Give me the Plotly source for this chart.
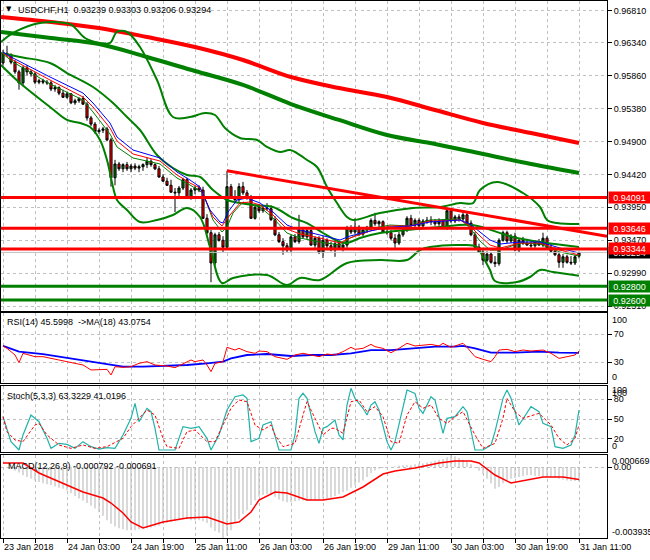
import plotly.graph_objects as go

# ---------------- data ----------------
bars = list(range(145))
opens = [.9605,.9619,.9617,.9606,.9592,.9576,.9598,.9592,.9589,.9577,
.9579,.9577,.9576,.9567,.9569,.9561,.9555,.9560,.9547,.9550,
.9553,.9545,.9525,.9516,.9505,.9507,.9509,.9493,.9438,.9458,
.9451,.9457,.9451,.9455,.9452,.9454,.9457,.9462,.9457,.9451,
.9439,.9433,.9427,.9417,.9416,.9423,.9435,.9409,.9420,.9423,
.9420,.9379,.9358,.9314,.9355,.9347,.9337,.9425,.9409,.9406,
.9425,.9416,.9409,.9379,.9395,.9390,.9394,.9393,.9377,.9355,
.9345,.9339,.9333,.9352,.9345,.9362,.9352,.9361,.9340,.9350,
.9330,.9347,.9339,.9333,.9342,.9336,.9340,.9365,.9359,.9366,
.9356,.9362,.9366,.9376,.9371,.9374,.9359,.9358,.9350,.9343,
.9355,.9362,.9379,.9369,.9376,.9368,.9375,.9376,.9374,.9371,
.9375,.9365,.9390,.9375,.9381,.9378,.9384,.9372,.9355,.9337,
.9330,.9318,.9327,.9315,.9313,.9347,.9358,.9346,.9353,.9333,
.9347,.9343,.9340,.9339,.9345,.9340,.9350,.9336,.9331,.9326,
.9315,.9323,.9315,.9314,.93239]
highs = [.9624,.9630,.9619,.9609,.9595,.9601,.9602,.9595,.9592,.9582,
.9582,.9580,.9579,.9573,.9571,.9566,.9563,.9561,.9553,.9555,
.9557,.9548,.9528,.9519,.9510,.9512,.9512,.9496,.9464,.9461,
.9459,.9461,.9458,.9459,.9457,.9459,.9467,.9465,.9459,.9455,
.9443,.9438,.9435,.9423,.9426,.9438,.9438,.9423,.9426,.9427,
.9425,.9385,.9362,.9358,.9359,.9353,.9448,.9429,.9420,.9430,
.9432,.9420,.9413,.9398,.9400,.9397,.9401,.9398,.9382,.9359,
.9350,.9343,.9355,.9356,.9384,.9366,.9365,.9363,.9353,.9353,
.9353,.9350,.9345,.9347,.9345,.9343,.9368,.9369,.9379,.9369,
.9365,.9368,.9379,.9387,.9376,.9376,.9365,.9362,.9356,.9359,
.9365,.9382,.9384,.9379,.9379,.9378,.9381,.9382,.9378,.9379,
.9378,.9394,.9394,.9384,.9385,.9388,.9388,.9376,.9359,.9342,
.9334,.9331,.9330,.9324,.9350,.9361,.9361,.9356,.9358,.9350,
.9352,.9349,.9346,.9347,.9349,.9358,.9353,.9342,.9337,.9330,
.9327,.9326,.9324,.9326,.93303]
lows = [.9601,.9614,.9603,.9589,.9566,.9571,.9587,.9585,.9574,.9574,
.9574,.9573,.9564,.9563,.9558,.9554,.9553,.9545,.9544,.9547,
.9544,.9521,.9513,.9502,.9502,.9503,.9491,.9425,.9427,.9448,
.9446,.9448,.9446,.9449,.9446,.9448,.9452,.9454,.9449,.9438,
.9432,.9426,.9416,.9388,.9411,.9420,.9407,.9406,.9414,.9417,
.9378,.9356,.9286,.9310,.9345,.9330,.9333,.9407,.9401,.9403,
.9413,.9406,.9378,.9377,.9387,.9387,.9390,.9375,.9353,.9343,
.9326,.9330,.9329,.9343,.9342,.9350,.9349,.9339,.9336,.9327,
.9321,.9333,.9331,.9323,.9333,.9331,.9336,.9356,.9356,.9353,
.9353,.9358,.9362,.9368,.9365,.9358,.9355,.9347,.9336,.9340,
.9352,.9359,.9366,.9365,.9365,.9365,.9371,.9369,.9368,.9368,
.9363,.9362,.9372,.9372,.9374,.9374,.9371,.9353,.9336,.9329,
.9311,.9315,.9313,.9308,.9310,.9345,.9343,.9343,.9331,.9330,
.9340,.9339,.9336,.9336,.9339,.9337,.9334,.9329,.9324,.9307,
.9307,.9313,.9311,.9311,.93206]
closes = [.9619,.9617,.9606,.9592,.9576,.9598,.9592,.9589,.9577,.9579,
.9577,.9576,.9567,.9569,.9561,.9555,.9560,.9547,.9550,.9553,
.9545,.9525,.9516,.9505,.9507,.9509,.9493,.9438,.9458,.9451,
.9457,.9451,.9455,.9452,.9454,.9457,.9462,.9457,.9451,.9439,
.9433,.9427,.9417,.9416,.9423,.9435,.9409,.9420,.9423,.9420,
.9379,.9358,.9314,.9355,.9347,.9337,.9425,.9409,.9406,.9425,
.9416,.9409,.9379,.9395,.9390,.9394,.9393,.9377,.9355,.9345,
.9339,.9333,.9352,.9345,.9362,.9352,.9361,.9340,.9350,.9330,
.9347,.9339,.9333,.9342,.9336,.9340,.9365,.9359,.9366,.9356,
.9362,.9366,.9376,.9371,.9374,.9359,.9358,.9350,.9343,.9355,
.9362,.9379,.9369,.9376,.9368,.9375,.9376,.9374,.9371,.9375,
.9365,.9390,.9375,.9381,.9378,.9384,.9372,.9355,.9337,.9330,
.9318,.9327,.9315,.9313,.9347,.9358,.9346,.9353,.9333,.9347,
.9343,.9340,.9339,.9345,.9340,.9350,.9336,.9331,.9326,.9315,
.9323,.9315,.9314,.9323,.93294]

# long moving averages (thick)
ma_long_x = [-0.5,12,24,36,48,60,72,84,96,108,120,132,144]
ma_red_y = [0.96718,0.96645,0.96558,0.96427,0.96281,0.96092,0.95845,0.95685,0.95554,0.95365,0.95176,0.95031,0.94885]
ma_green_y = [0.96500,0.96412,0.96325,0.96136,0.95932,0.95729,0.95452,0.95220,0.95001,0.94871,0.94725,0.94580,0.94449]

# Bollinger bands
bb_up_x = [-0.5,3,9.25,15.5,17.25,20.5,24.25,26.75,28.5,31,34.25,38.5,42.5,46.75,50.5,53,55.5,59.25,63.5,66,69.25,71.75,74.25,76,78.5,81,83.5,86,87.5,94.25,102.5,109.25,114.25,117.5,119.25,123.5,130,134.25,136,138.5,144]
bb_up_y = [0.96354,0.96500,0.96630,0.96630,0.96601,0.96412,0.96340,0.96340,0.96500,0.96500,0.96281,0.95801,0.95263,0.95263,0.95321,0.95292,0.95103,0.94958,0.94929,0.94827,0.94754,0.94783,0.94710,0.94638,0.94536,0.94245,0.94012,0.93809,0.93765,0.93867,0.93940,0.93954,0.94012,0.94012,0.94201,0.94318,0.94158,0.93954,0.93765,0.93721,0.93707]
bb_lo_x = [-0.5,4.25,11.75,16,19.25,21.75,24.25,26,27.5,28.5,31,34.25,38.5,42.5,46,49.25,51.75,54.75,57.5,66,71,74.25,79.25,86,94.25,101,104.25,106.75,115,118.5,120,121.75,123,128.5,131.75,134.25,137.5,144]
bb_lo_y = [0.96020,0.95758,0.95409,0.95220,0.95176,0.95118,0.94929,0.94638,0.94245,0.94056,0.93910,0.93736,0.93765,0.93838,0.93940,0.93809,0.93372,0.92849,0.92922,0.92965,0.92820,0.92922,0.92893,0.93140,0.93183,0.93183,0.93328,0.93372,0.93401,0.93372,0.93227,0.93038,0.92878,0.92863,0.92936,0.93038,0.93009,0.92954]
bb_mid_x = [-0.5,4.25,11.75,16,22.5,27.5,31,34.25,38.5,42.5,46,49.25,52.5,56,59.25,62.5,67.5,72.5,76,80,84.25,86,89.25,94.25,101,109.25,117.25,128.5,144]
bb_mid_y = [0.96194,0.96136,0.96049,0.95903,0.95700,0.95467,0.95263,0.95074,0.94710,0.94521,0.94420,0.94391,0.94201,0.94056,0.94012,0.93983,0.93954,0.93794,0.93721,0.93576,0.93445,0.93430,0.93503,0.93576,0.93619,0.93663,0.93692,0.93503,0.93372]

# short moving averages (thin)
ma_blue_x = [0,2.5,11.75,20,22.5,26.75,28.5,32.5,39.25,43.5,46.75,49.25,51.75,54.25,55,56.25,58.5,61,64.25,67.5,71,74.25,79.25,84.25,86.75,91.75,96.75,101.75,106.75,114.25,116.75,119.25,121.75,124.25,129.25,134.25,139.25,144]
ma_blue_y = [0.96209,0.96121,0.95845,0.95612,0.95467,0.95176,0.94972,0.94783,0.94667,0.94463,0.94347,0.94245,0.93910,0.93736,0.93721,0.93881,0.94056,0.94085,0.94012,0.93881,0.93692,0.93619,0.93547,0.93474,0.93532,0.93605,0.93663,0.93678,0.93736,0.93765,0.93707,0.93590,0.93474,0.93416,0.93445,0.93445,0.93357,0.93285]
ma_redt_x = [0,2.5,11.75,20,22.5,26.75,28.5,32.5,39.25,43.5,46.75,49.25,52.5,54.75,56.75,59.25,61.75,64.25,67.5,71,74.25,79.25,84.25,86.75,91.75,96.75,101.75,106.75,114.25,116.75,119.25,121.75,124.25,129.25,134.25,139.25,144]
ma_redt_y = [0.96194,0.96092,0.95801,0.95554,0.95409,0.95103,0.94914,0.94725,0.94623,0.94420,0.94303,0.94231,0.93809,0.93678,0.93838,0.94012,0.94027,0.93983,0.93838,0.93634,0.93561,0.93503,0.93430,0.93503,0.93605,0.93678,0.93678,0.93750,0.93765,0.93678,0.93532,0.93401,0.93357,0.93430,0.93430,0.93328,0.93256]
ma_grnt_x = [0,2.5,11.75,20,22.5,26.75,28.5,32.5,39.25,43.5,46.75,50,52.5,54.75,56,57.5,60,61.75,64.25,67.5,71,74.25,79.25,84.25,86.75,91.75,96.75,101.75,106.75,114.25,116.75,119.25,121.75,124.25,129.25,134.25,139.25,144]
ma_grnt_y = [0.96180,0.96063,0.95743,0.95510,0.95336,0.95016,0.94827,0.94667,0.94580,0.94376,0.94274,0.94158,0.93765,0.93590,0.93663,0.93867,0.94027,0.93998,0.93954,0.93794,0.93576,0.93503,0.93445,0.93401,0.93503,0.93634,0.93692,0.93678,0.93765,0.93779,0.93648,0.93459,0.93328,0.93328,0.93430,0.93416,0.93299,0.93241]

# horizontal levels and trend line
resist_levels = [0.94091, 0.93646, 0.93344]
support_levels = [0.92800, 0.92600]
last_price = 0.93294
trend_x = [56, 151]
trend_y = [0.9448, 0.9353]

# price axis ticks
price_ticks = [0.92510, 0.92990, 0.93470, 0.93950, 0.94420, 0.94900, 0.95380, 0.95860, 0.96340, 0.96810]

# RSI
rsi_x = [0,1,3,4,5,8,10,12,14,16,18,20,22,24,26,27,28,30,32,34,36,38,41,43,45,47,48,50,51,52,53,55,56,58,59,61,63,64,66,68,71,73,75,77,79,81,83,85,87,88,90,92,93,95,97,99,101,103,105,107,109,110,112,114,115,116,118,120,122,123,124,126,128,130,132,135,137,139,141,143,144]
rsi_y = [52.9,49.5,40.0,29.1,42.4,37.6,37.6,35.2,32.9,30.5,28.1,25.7,18.6,18.6,19.5,11.4,23.3,22.4,23.3,28.1,30.5,25.7,24.3,21.9,27.1,32.9,30.5,32.9,25.7,16.2,28.1,30.5,51.0,47.1,49.5,44.8,42.4,45.7,44.8,37.6,33.8,40.0,42.4,40.0,37.6,41.4,40.0,44.8,51.0,48.1,49.5,55.2,51.9,49.5,43.3,49.5,56.7,52.9,54.3,55.2,52.9,56.7,51.0,55.2,56.7,51.0,37.6,33.8,30.5,37.6,47.1,48.1,44.8,47.1,45.7,47.1,42.4,35.2,37.6,40.0,45.6]
rsi_ma_x = [0,4,10,15,20,25,30,35,41,46,51,55,57,61,66,72,77,82,87,92,97,103,108,113,115,118,122,128,134,139,144]
rsi_ma_y = [52.9,44.8,41.4,36.7,32.9,28.1,23.3,23.3,24.3,25.7,28.1,30.5,35.2,40.0,41.4,38.6,40.0,40.0,42.4,47.1,47.1,49.5,51.9,51.9,52.9,49.5,43.3,43.3,44.8,43.3,43.08]

# Stochastic
st_k_x = [0,1,2,4,5,7,9,11,12,14,16,18,20,22,24,26,28,30,32,33,34,36,37,38,39,43,45,47,49,51,52,54,56,58,60,61,62,64,65,67,68,69,72,73,74,75,76,78,79,80,81,82,83,84,85,86,87,88,90,91,92,93,94,96,97,98,100,101,103,104,105,107,108,110,111,113,115,116,118,120,122,123,125,126,127,129,132,134,135,137,138,140,142,143,144]
st_k_y = [53.5,35.9,15.7,3.0,25.8,56.0,45.9,20.7,5.5,13.1,11.6,5.5,15.7,8.1,4.5,6.6,5.5,25.8,51.0,73.7,45.9,66.2,61.1,35.9,3.0,3.0,38.4,35.9,38.4,20.7,3.0,25.8,63.6,83.8,86.4,81.3,15.7,20.7,40.9,45.9,25.8,3.0,3.0,25.8,81.3,88.9,81.3,30.8,13.1,35.9,38.4,43.4,48.5,25.8,18.2,71.2,96.5,81.3,66.2,56.0,71.2,76.2,63.6,15.7,3.0,15.7,71.2,93.9,88.9,66.2,58.6,83.8,78.8,28.3,51.0,53.5,68.7,61.1,3.0,3.0,10.6,30.8,81.3,93.9,81.3,40.9,68.7,61.1,43.4,38.4,8.1,5.5,10.6,25.8,63.3]
st_d_x = [0,1,3,5,8,9,11,14,17,20,23,26,30,32,34,36,38,40,41,44,46,48,51,53,55,57,59,61,63,65,67,68,70,73,75,76,78,80,82,83,85,87,89,91,93,95,97,99,101,103,105,107,109,111,113,115,118,120,123,125,126,128,130,134,137,139,141,143,144]
st_d_y = [53.5,30.8,18.2,15.7,40.9,43.4,25.8,10.6,5.5,10.6,5.5,8.1,20.7,38.4,51.0,63.6,56.0,20.7,8.1,5.5,30.8,33.3,15.7,15.7,40.9,66.2,78.8,76.2,40.9,33.3,40.9,25.8,8.1,13.1,56.0,76.2,51.0,25.8,35.9,35.9,28.3,76.2,78.8,61.1,68.7,53.5,15.7,13.1,56.0,76.2,66.2,71.2,51.0,43.4,53.5,61.1,25.8,5.5,13.1,51.0,81.3,61.1,51.0,58.6,40.9,20.7,10.6,20.7,41.0]

# MACD
macd_hist = [0,-0.5e-4,-1e-4,-2e-4,-3e-4,-4.6e-4,-5.5e-4,-6.5e-4,-7.5e-4,-8.3e-4,
-9e-4,-9.5e-4,-10e-4,-10.8e-4,-11.5e-4,-12e-4,-13e-4,-14.5e-4,-16e-4,-17.5e-4,
-18.5e-4,-20e-4,-21.5e-4,-23e-4,-25e-4,-27e-4,-29.5e-4,-31.5e-4,-33e-4,-34e-4,
-34.5e-4,-35e-4,-35e-4,-35e-4,-34.5e-4,-34e-4,-34e-4,-33.5e-4,-33e-4,-32.5e-4,
-31.5e-4,-31e-4,-30.5e-4,-30e-4,-29.5e-4,-29e-4,-29e-4,-29.5e-4,-29.5e-4,-29.5e-4,
-30e-4,-31e-4,-33.5e-4,-35.5e-4,-36.5e-4,-39.35e-4,-38e-4,-35e-4,-31e-4,-29e-4,
-26e-4,-24e-4,-21e-4,-18.5e-4,-16.5e-4,-15.5e-4,-15e-4,-15.5e-4,-16.5e-4,-18e-4,
-19e-4,-19.5e-4,-19.5e-4,-19e-4,-18.5e-4,-18.5e-4,-18.5e-4,-18.5e-4,-18.5e-4,-18e-4,
-17.5e-4,-17.5e-4,-17e-4,-16e-4,-15e-4,-14e-4,-13e-4,-11.5e-4,-10e-4,-8.5e-4,
-7.4e-4,-5.5e-4,-3.5e-4,-1.9e-4,-1.0e-4,-0.5e-4,0,0,0.5e-4,0.8e-4,
1e-4,1e-4,1e-4,1.5e-4,2e-4,2e-4,2.5e-4,3e-4,3.5e-4,4e-4,
4.5e-4,5.5e-4,6.69e-4,6e-4,5e-4,4e-4,3e-4,1.5e-4,-0.5e-4,-2e-4,
-4e-4,-6.5e-4,-9e-4,-12e-4,-11e-4,-9e-4,-7.4e-4,-6.5e-4,-6e-4,-5.5e-4,
-5e-4,-4.6e-4,-4.6e-4,-5e-4,-5e-4,-5.2e-4,-5.5e-4,-5.6e-4,-5.8e-4,-6.5e-4,
-7e-4,-7.5e-4,-7.7e-4,-7.8e-4,-7.92e-4]
macd_sig_x = [0,5,9,15,20,25,27,30,32,35,40,46,51,56,59,62,64,68,71,76,80,85,90,95,98,103,109,113,117,119,123,127,131,135,140,144]
macd_sig_y = [0.000225,0.000225,-0.000329,-0.000884,-0.001383,-0.001716,-0.001994,-0.002548,-0.003048,-0.003380,-0.003048,-0.002826,-0.002770,-0.003158,-0.003048,-0.002493,-0.001827,-0.001383,-0.001439,-0.001827,-0.001827,-0.001661,-0.001106,-0.000385,-0.000219,-0.000052,0.000225,0.000336,0.000336,0.000225,-0.000440,-0.000884,-0.000718,-0.000551,-0.000551,-0.000691]
macd_max, macd_min = 0.000669, -0.003935

# time axis
x_tick_bars = list(range(0, 145, 8))
x_tick_labels = ["23 Jan 2018", "", "24 Jan 03:00", "", "24 Jan 19:00", "", "25 Jan 11:00", "",
                 "26 Jan 03:00", "", "26 Jan 19:00", "", "29 Jan 11:00", "", "30 Jan 03:00", "",
                 "30 Jan 19:00", "", "31 Jan 11:00"]

# ---------------- figure ----------------
FONT = "Liberation Sans"
GRID = "#c0c0c0"
X_RANGE = [-0.5, 151]
H = 560
B = 22
TOP = 1
PLOT_H = H - B - TOP


def pfy(ypix):
    return (H - B - ypix) / PLOT_H


def pfx(xpix):
    return (xpix - 1) / 606


fig = go.Figure()

fig.add_trace(go.Candlestick(
    x=bars, open=opens, high=highs, low=lows, close=closes,
    increasing=dict(line=dict(color="black", width=1), fillcolor="#007a00"),
    decreasing=dict(line=dict(color="black", width=1), fillcolor="#ff0000"),
    whiskerwidth=0, xaxis="x", yaxis="y", hoverinfo="skip"))


def line(x, y, color, width, xa="x", ya="y", dash="solid", shape="linear"):
    fig.add_trace(go.Scatter(x=x, y=y, mode="lines", xaxis=xa, yaxis=ya,
                             line=dict(color=color, width=width, dash=dash, shape=shape),
                             hoverinfo="skip"))


line(ma_long_x, ma_red_y, "#ff0000", 4, shape="spline")
line(ma_long_x, ma_green_y, "#008000", 4, shape="spline")
line(bb_up_x, bb_up_y, "#008000", 2, shape="spline")
line(bb_lo_x, bb_lo_y, "#008000", 2, shape="spline")
line(bb_mid_x, bb_mid_y, "#008000", 2, shape="spline")
line(ma_grnt_x, ma_grnt_y, "#008000", 1)
line(ma_redt_x, ma_redt_y, "#ff0000", 1)
line(ma_blue_x, ma_blue_y, "#0000ff", 1)
line(X_RANGE, [last_price, last_price], "#c0c0c0", 1)
for lv in resist_levels:
    line(X_RANGE, [lv, lv], "#ff0000", 3)
for lv in support_levels:
    line(X_RANGE, [lv, lv], "#008000", 3)
line(trend_x, trend_y, "#ff0000", 3)

line(rsi_ma_x, rsi_ma_y, "#0000ff", 1.8, "x2", "y2")
line(rsi_x, rsi_y, "#ff0000", 1, "x2", "y2")

line(st_k_x, st_k_y, "#20b2aa", 1.2, "x3", "y3")
line(st_d_x, st_d_y, "#ff0000", 1, "x3", "y3", dash="3px,2px")

fig.add_trace(go.Bar(x=bars, y=macd_hist, width=0.3, xaxis="x4", yaxis="y4",
                     marker=dict(color="#c0c0c0", line=dict(width=0)), hoverinfo="skip"))
line(macd_sig_x, macd_sig_y, "#ff0000", 1.5, "x4", "y4")

xcommon = dict(range=X_RANGE, showgrid=True, gridcolor=GRID, griddash="3px,3px", gridwidth=1,
               tickmode="array", tickvals=x_tick_bars, zeroline=False, showline=True,
               linecolor="black", linewidth=1, mirror=True, fixedrange=True, automargin=False)
ycommon = dict(side="right", showgrid=True, gridcolor=GRID, griddash="3px,3px", gridwidth=1,
               zeroline=False, showline=True, linecolor="black", linewidth=1, mirror=True,
               ticks="outside", ticklen=4, tickcolor="black", tickfont=dict(size=9),
               tickmode="array", automargin=False, fixedrange=True)

layout = dict(
    width=650, height=H, margin=dict(l=1, r=43, t=TOP, b=B, autoexpand=False),
    paper_bgcolor="white", plot_bgcolor="white", showlegend=False,
    font=dict(family=FONT, size=9, color="black"),
    boxgap=0.25,
    xaxis=dict(xcommon, anchor="y", showticklabels=False, ticks="", rangeslider=dict(visible=False)),
    xaxis2=dict(xcommon, anchor="y2", matches="x", showticklabels=False, ticks=""),
    xaxis3=dict(xcommon, anchor="y3", matches="x", showticklabels=False, ticks=""),
    xaxis4=dict(xcommon, anchor="y4", matches="x", showticklabels=True, ticktext=x_tick_labels,
                ticks="outside", ticklen=4, tickcolor="black", ticklabelposition="outside right",
                tickfont=dict(size=9)),
    yaxis=dict(ycommon, anchor="x", domain=[pfy(311), pfy(1)], range=[0.924415, 0.969505],
               tickvals=price_ticks, ticktext=[f"{v:.5f}" for v in price_ticks]),
    yaxis2=dict(ycommon, anchor="x2", domain=[pfy(383), pfy(313)], range=[0, 100],
                tickvals=[30, 70], ticktext=["30", "70"]),
    yaxis3=dict(ycommon, anchor="x3", domain=[pfy(452), pfy(386)], range=[0, 100],
                tickvals=[20, 50, 80], ticktext=["20", "50", "80"]),
    yaxis4=dict(ycommon, anchor="x4", domain=[pfy(538), pfy(455)], range=[macd_min, macd_max],
                tickvals=[0], ticktext=["0.00"]),
)
fig.update_layout(**layout)

ann = []
ann.append(dict(x=1, xref="paper", xanchor="left", xshift=1, y=last_price, yref="y",
                text=f"{last_price:.5f}", showarrow=False, bgcolor="#000000",
                font=dict(color="white", size=9), width=41, height=11, borderpad=0))
for lv in resist_levels:
    ann.append(dict(x=1, xref="paper", xanchor="left", xshift=1, y=lv, yref="y",
                    text=f"{lv:.5f}", showarrow=False, bgcolor="#ff0000",
                    font=dict(color="white", size=9), width=41, height=11, borderpad=0))
for lv in support_levels:
    ann.append(dict(x=1, xref="paper", xanchor="left", xshift=1, y=lv, yref="y",
                    text=f"{lv:.5f}", showarrow=False, bgcolor="#008000",
                    font=dict(color="white", size=9), width=41, height=11, borderpad=0))


def edge(text, y, yref, anchor, shift=0):
    ann.append(dict(x=1, xref="paper", xanchor="left", xshift=4, y=y, yref=yref, yanchor=anchor,
                    yshift=shift, text=text, showarrow=False, font=dict(size=9), borderpad=0))


edge("100", 100, "y2", "top", -1)
edge("0", 0, "y2", "bottom")
edge("100", 100, "y3", "top", 2)
edge("100", 100, "y3", "top", -1)
edge("0", 0, "y3", "bottom")
edge("0.000669", macd_max, "y4", "top")
edge("-0.003935", macd_min, "y4", "bottom")


def title(text, xpix, ypix, size=9, fam=FONT):
    ann.append(dict(x=pfx(xpix), xref="paper", xanchor="left", y=pfy(ypix), yref="paper",
                    yanchor="middle", text=text, showarrow=False,
                    font=dict(size=size, family=fam, color="black"), borderpad=0))


title("\u25bc", 5, 9, 7, "DejaVu Sans")
title("USDCHF,H1\u00a0\u00a00.93239 0.93303 0.93206 0.93294", 17, 10)
title("RSI(14) 45.5998  ->MA(18) 43.0754", 6, 322)
title("Stoch(5,3,3) 63.3229 41.0196", 6, 396)
title("MACD(12,26,9) -0.000792 -0.000691", 7, 466)

fig.update_layout(annotations=ann)
fig.write_html("out.html", config={"displayModeBar": False, "staticPlot": True},
               post_script="document.body.style.margin='0px';document.body.style.overflow='hidden';")
